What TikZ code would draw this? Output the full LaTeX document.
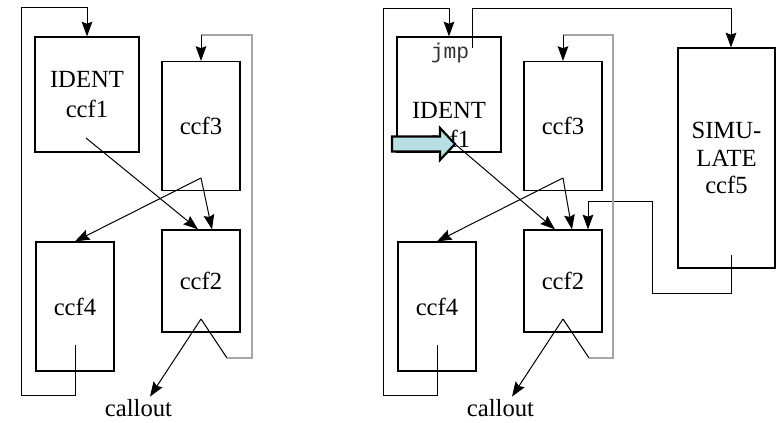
\documentclass[tikz,border=0pt]{standalone}
\usepackage{fontspec}
\setmainfont{Liberation Serif}
\setmonofont{Liberation Mono}
\usetikzlibrary{arrows.meta}
\definecolor{markblue}{HTML}{B7DFE3}

\tikzset{
  txt/.style={inner sep=0pt, align=center, font=\fontsize{18.5}{22}\selectfont},
  ccf/.style={txt, draw, line width=0.9pt},
  flow/.style={line width=0.75pt, -{Stealth[length=11pt,width=8pt,inset=1.5pt]}},
  wire/.style={line width=0.75pt},
  back/.style={line width=0.9pt, gray!70}
}

\begin{document}
\begin{tikzpicture}[x=0.75pt, y=-0.75pt]
  \useasboundingbox (0,0) rectangle (776,423);
  % left: without jmp
  \node[ccf, minimum width=78pt, minimum height=86.25pt] (lc1) at (87,94.5) {IDENT\\ccf1};
  \node[ccf, minimum width=58.5pt, minimum height=96.75pt] (lc3) at (201,126) {ccf3};
  \node[ccf, minimum width=58.5pt, minimum height=96.75pt] (lc4) at (75,306.5) {ccf4};
  \node[ccf, minimum width=58.5pt, minimum height=76.5pt] (lc2) at (201,281) {ccf2};
  \node[txt, anchor=base] (lout) at (138.5,417) {callout};
  \coordinate (ls1) at (86,138);
  \coordinate (ls3) at (201,178);
  \coordinate (ls2) at (201,319);
  \coordinate (ls4) at (75,345);
  \draw[flow] (ls4) |- (21,396) -- (21,8) -| (lc1.north);
  \draw[flow] (ls1) -- ([shift={(-3,0)}]lc2.north);
  \draw[flow] (ls3) -- ([shift={(11,0)}]lc2.north);
  \draw[flow] (ls3) -- (lc4.north);
  \draw[flow] (ls2) -- ([shift={(11.5,-3)}]lout.north);
  \draw[wire] (ls2) -- (227,358);
  \draw[back] (227,358) -| (252,35) -- (201,35);
  \draw[flow] (201,35) -- (lc3.north);
  % right: with jmp to SIMULATE
  \begin{scope}[shift={(362,0)}]
  \node[ccf, minimum width=78pt, minimum height=86.25pt] (rc1) at (87,94.5) {};
  \node[txt] (rid) at (87,125) {IDENT\\ccf1};
  \node[font=\ttfamily\fontsize{16}{18}\selectfont, text=black!80] (rjmp) at (88,53) {jmp};
  \node[ccf, minimum width=58.5pt, minimum height=96.75pt] (rc3) at (201,126) {ccf3};
  \node[ccf, minimum width=58.5pt, minimum height=96.75pt] (rc4) at (75,306.5) {ccf4};
  \node[ccf, minimum width=58.5pt, minimum height=76.5pt] (rc2) at (201,281) {ccf2};
  \node[ccf, minimum width=72.75pt, minimum height=165pt, font=\fontsize{18.5}{20.8}\selectfont] (rc5) at (364.5,158) {SIMU-\\LATE\\ccf5};
  \node[txt, anchor=base] (rout) at (138.5,417) {callout};
  \coordinate (rs1) at (93,144);
  \coordinate (rs3) at (201,178);
  \coordinate (rs2) at (201,319);
  \coordinate (rs4) at (75,345);
  \coordinate (rsj) at (110,48);
  \coordinate (rs5) at (369,255);
  \draw[flow] (rs4) |- (21,396) -- (21,9) -| (rc1.north);
  \draw[flow] (rsj) -- (110,9) -| ([shift={(4.5,0)}]rc5.north);
  \draw[flow] (rs1) -- ([shift={(-8,0)}]rc2.north);
  \draw[flow] (rs3) -- ([shift={(9,0)}]rc2.north);
  \draw[flow] (rs3) -- (rc4.north);
  \draw[flow] (rs5) |- (290,294) |- (226,202) -- ([shift={(25,0)}]rc2.north);
  \draw[flow] (rs2) -- ([shift={(11.5,-3)}]rout.north);
  \draw[wire] (rs2) -- (227,358);
  \draw[back] (227,358) -| (251,35) -- (201,35);
  \draw[flow] (201,35) -- (rc3.north);
  % marker arrow
  \draw[line width=1.6pt, fill=markblue, line join=miter]
    (30,136.5) -- (78,136.5) -- (78,128) -- (rs1) -- (78,160) -- (78,151.5) -- (30,151.5) -- cycle;
  \end{scope}
\end{tikzpicture}
\end{document}
